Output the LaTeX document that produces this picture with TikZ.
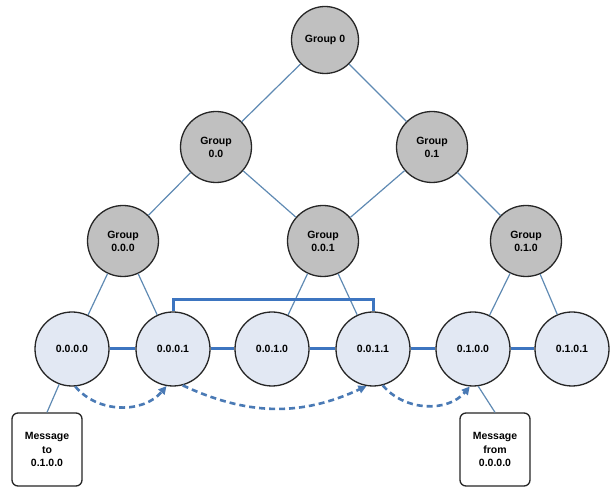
\documentclass[tikz,border=0pt]{standalone}
\usepackage{fontspec}
\setmainfont{Liberation Sans}
\usetikzlibrary{arrows.meta}
\definecolor{grpfill}{HTML}{C0C0C0}
\definecolor{leaffill}{HTML}{E2E8F3}
\definecolor{treeline}{HTML}{5F8AB3}
\definecolor{linkblue}{HTML}{3D75C0}
\definecolor{dashblue}{HTML}{4A7AB5}
\begin{document}
\begin{tikzpicture}[x=1pt,y=1pt,
  grpnode/.style={circle,draw=black!85,line width=1.3pt,fill=grpfill,minimum size=71pt,inner sep=0pt,align=center,font=\fontsize{10.5}{13}\selectfont\bfseries},
  leafnode/.style={circle,draw=black!85,line width=1.3pt,fill=leaffill,minimum size=74pt,inner sep=0pt,align=center,font=\fontsize{10.5}{13}\selectfont\bfseries},
  msgbox/.style={draw=black!85,line width=1.3pt,fill=white,rounded corners=6pt,minimum width=70pt,minimum height=73pt,inner sep=0pt,align=center,font=\fontsize{10.5}{13.5}\selectfont\bfseries},
  treeedge/.style={draw=treeline,line width=1.2pt},
  linkedge/.style={draw=linkblue,line width=3pt},
  hopedge/.style={draw=dashblue,line width=2.6pt,dash pattern=on 6pt off 4pt,-{Triangle[length=8pt,width=8pt]}}
]
\useasboundingbox (0,0) rectangle (610,487);

% group nodes
\node[grpnode,minimum size=67pt] (g0) at (325,447) {Group 0};
\node[grpnode] (g00) at (216,340) {Group\\0.0};
\node[grpnode] (g01) at (432,340) {Group\\0.1};
\node[grpnode] (g000) at (123,246) {Group\\0.0.0};
\node[grpnode] (g001) at (323,246) {Group\\0.0.1};
\node[grpnode] (g010) at (526,246) {Group\\0.1.0};

% leaf nodes
\node[leafnode] (n0000) at (72,138) {0.0.0.0};
\node[leafnode] (n0001) at (173,138) {0.0.0.1};
\node[leafnode] (n0010) at (272,138) {0.0.1.0};
\node[leafnode] (n0011) at (373,138) {0.0.1.1};
\node[leafnode] (n0100) at (473,138) {0.1.0.0};
\node[leafnode] (n0101) at (572,138) {0.1.0.1};

% message boxes
\node[msgbox] (msg1) at (47,37.5) {Message\\to\\0.1.0.0};
\node[msgbox] (msg2) at (495,37.5) {Message\\from\\0.0.0.0};

% tree edges
\draw[treeedge] (g0) -- (g00);
\draw[treeedge] (g0) -- (g01);
\draw[treeedge] (g00) -- (g000);
\draw[treeedge] (g00) -- (g001);
\draw[treeedge] (g01) -- (g001);
\draw[treeedge] (g01) -- (g010);
\draw[treeedge] (g000) -- (n0000);
\draw[treeedge] (g000) -- (n0001);
\draw[treeedge] (g001) -- (n0010);
\draw[treeedge] (g001) -- (n0011);
\draw[treeedge] (g010) -- (n0100);
\draw[treeedge] (g010) -- (n0101);
\draw[treeedge] (n0000.-110) -- (msg1.north);
\draw[treeedge] (n0100.-82) -- (msg2.north);

% ring links
\draw[linkedge] (n0000) -- (n0001);
\draw[linkedge] (n0001) -- (n0010);
\draw[linkedge] (n0010) -- (n0011);
\draw[linkedge] (n0011) -- (n0100);
\draw[linkedge] (n0100) -- (n0101);
\coordinate (bk) at (273,187);
\draw[linkedge] (n0001.north) |- (bk) -| (n0011.north);

% routing hops
\draw[hopedge] (n0000.-85) to[out=-50,in=-130] (n0001.-100);
\draw[hopedge] (n0001.-75) to[out=-25,in=-155] (n0011.-100);
\draw[hopedge] (n0011.-75) to[out=-50,in=-130] (n0100.-95);
\end{tikzpicture}
\end{document}
